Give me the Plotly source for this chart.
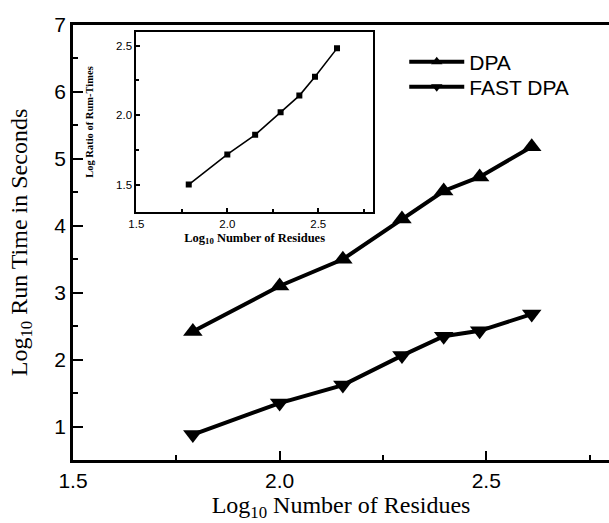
import plotly.graph_objects as go

# Main chart data
log_residues = [1.79, 2.0, 2.153, 2.296, 2.397, 2.484, 2.61]
dpa_time = [2.42, 3.10, 3.50, 4.10, 4.52, 4.73, 5.18]
fast_dpa_time = [0.88, 1.35, 1.62, 2.06, 2.35, 2.43, 2.68]

# Inset data
inset_log_residues = [1.788, 2.0, 2.153, 2.293, 2.396, 2.482, 2.603]
inset_log_ratio = [1.50, 1.717, 1.858, 2.02, 2.14, 2.276, 2.48]

main_x_ticks = [1.5, 2.0, 2.5]
main_x_ticklabels = ["1.5", "2.0", "2.5"]
main_y_ticks = [1, 2, 3, 4, 5, 6, 7]
inset_y_ticks = [1.5, 2.0, 2.5]
inset_y_ticklabels = ["1.5", "2.0", "2.5"]
series_names = ["DPA", "FAST DPA"]

sans = "Liberation Sans, Arial, sans-serif"
serif = "Liberation Serif, Times New Roman, serif"

fig = go.Figure()
for name, ys, sym, leg in [(series_names[0], dpa_time, "triangle-up", "legend"),
                           (series_names[1], fast_dpa_time, "triangle-down", "legend2")]:
    fig.add_trace(go.Scatter(
        x=log_residues, y=ys, mode="lines+markers", name=name, showlegend=False,
        line=dict(color="black", width=4),
        marker=dict(symbol=sym, size=17, color="black"),
    ))
    # legend-only entry with smaller symbol, as in the reference
    fig.add_trace(go.Scatter(
        x=[None], y=[None], mode="lines+markers", name=name, showlegend=True,
        legend=leg,
        line=dict(color="black", width=4),
        marker=dict(symbol=sym, size=10, color="black"),
    ))
fig.add_trace(go.Scatter(
    x=inset_log_residues, y=inset_log_ratio, mode="lines+markers",
    xaxis="x2", yaxis="y2", showlegend=False,
    line=dict(color="black", width=1.6),
    marker=dict(symbol="square", size=6, color="black"),
))

legend_common = dict(
    xanchor="left", yanchor="top",
    bgcolor="rgba(0,0,0,0)", borderwidth=0,
    font=dict(family=sans, size=21, color="black"),
    itemwidth=55, tracegroupgap=0,
)

fig.update_layout(
    width=609, height=523,
    margin=dict(l=73, r=0, t=25, b=63),
    paper_bgcolor="white", plot_bgcolor="white",
    showlegend=True,
    legend=dict(x=0.618, y=0.962, **legend_common),
    legend2=dict(x=0.618, y=0.9046, **legend_common),
    xaxis=dict(
        range=[1.5, 2.797], domain=[0, 1],
        tickvals=main_x_ticks, ticktext=main_x_ticklabels,
        ticks="inside", ticklen=9, tickwidth=2, tickcolor="black",
        minor=dict(dtick=0.25, ticks="inside", ticklen=5, tickwidth=2, tickcolor="black", showgrid=False),
        showline=True, linewidth=2.7, linecolor="black", mirror=True,
        showgrid=False, zeroline=False,
        tickfont=dict(family=sans, size=21, color="black"),
        title=dict(text="Log<sub>10</sub> Number of Residues",
                   font=dict(family=serif, size=24, color="black"), standoff=2),
    ),
    yaxis=dict(
        range=[0.5, 7], domain=[0, 1],
        tickvals=main_y_ticks,
        ticks="inside", ticklen=10, tickwidth=2, tickcolor="black",
        minor=dict(dtick=0.5, ticks="inside", ticklen=5, tickwidth=2, tickcolor="black", showgrid=False),
        showline=True, linewidth=2.7, linecolor="black", mirror=False,
        showgrid=False, zeroline=False,
        tickfont=dict(family=sans, size=21, color="black"),
        title=dict(text="Log<sub>10</sub> Run Time in Seconds",
                   font=dict(family=serif, size=24, color="black"), standoff=20),
    ),
    xaxis2=dict(
        anchor="y2", domain=[0.1182, 0.5594], range=[1.5, 2.8],
        tickvals=[1.5, 2.0, 2.5], ticktext=["1.5", "2.0", "2.5"],
        ticks="inside", ticklen=4, tickwidth=1.5, tickcolor="black",
        minor=dict(dtick=0.25, ticks="inside", ticklen=3, tickwidth=1.5, tickcolor="black", showgrid=False),
        showline=True, linewidth=2, linecolor="black", mirror=True,
        showgrid=False, zeroline=False,
        tickfont=dict(family=sans, size=11.5, color="black"),
        title=dict(text="<b>Log<sub>10</sub> Number of Residues</b>",
                   font=dict(family=serif, size=12.5, color="black"), standoff=4),
    ),
    yaxis2=dict(
        anchor="x2", domain=[0.5694, 0.9846], range=[1.3, 2.6],
        tickvals=inset_y_ticks, ticktext=inset_y_ticklabels,
        ticks="inside", ticklen=4, tickwidth=1.5, tickcolor="black",
        minor=dict(dtick=0.25, ticks="inside", ticklen=3, tickwidth=1.5, tickcolor="black", showgrid=False),
        showline=True, linewidth=2, linecolor="black", mirror=True,
        showgrid=False, zeroline=False,
        tickfont=dict(family=sans, size=11.5, color="black"),
        title=dict(text="<b>Log Ratio of Rum-Times</b>",
                   font=dict(family=serif, size=10.5, color="black"), standoff=20),
    ),
)

fig.write_html(
    "out.html",
    config={"displayModeBar": False},
    post_script="document.body.style.margin='0';document.body.style.overflow='hidden';",
)
